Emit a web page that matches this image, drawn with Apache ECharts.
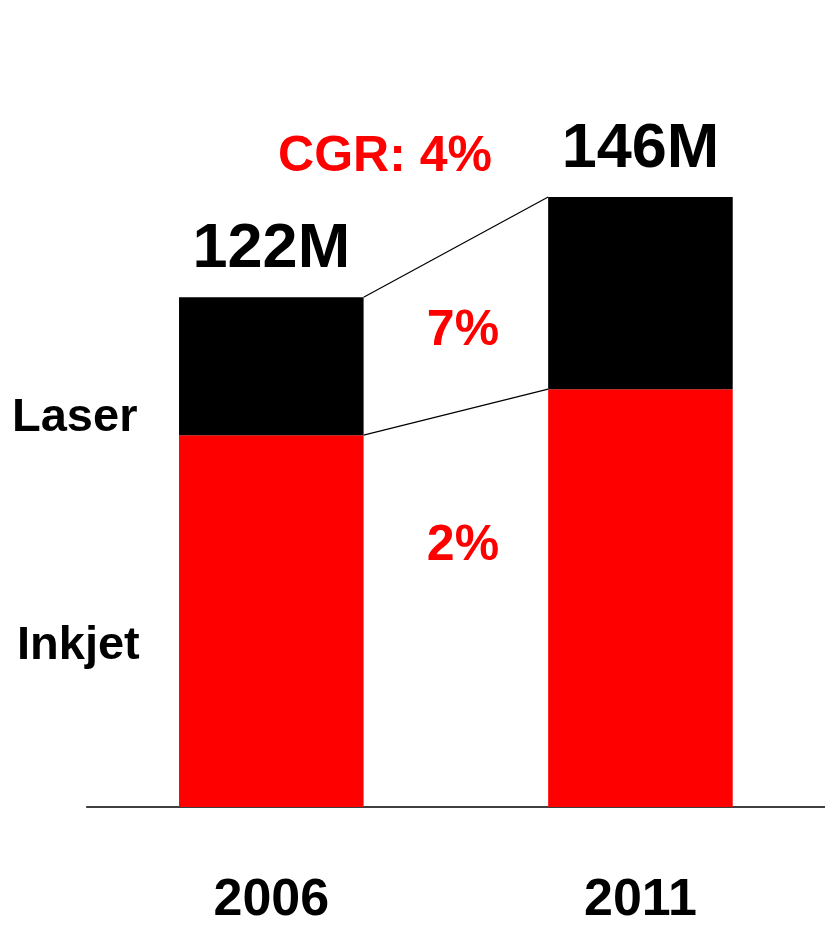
<!DOCTYPE html>
<html>
<head>
<meta charset="utf-8">
<script src="https://cdn.jsdelivr.net/npm/echarts@6/dist/echarts.min.js"></script>
<style>
  html, body { margin: 0; padding: 0; background: #fff; overflow: hidden; }
  #chart { width: 100vw; height: 100vh; }
</style>
</head>
<body>
<div id="chart"></div>
<script>
// Printer shipments, millions of units
const years = ['2006', '2011'];
const inkjet = [89, 100];
const laser = [33, 46];
const totals = inkjet.map((v, i) => v + laser[i]);
const spanYears = 5;

// compound growth rate between the two years, as a rounded percent
function cgr(series) {
  return Math.round((Math.pow(series[1] / series[0], 1 / spanYears) - 1) * 100) + '%';
}

const FONT = "'Liberation Sans', Arial, Helvetica, sans-serif";
const RED = '#ff0000';

const chart = echarts.init(document.getElementById('chart'), null, { renderer: 'canvas' });

// layout is designed on an 825 x 927 page and scaled to the actual size
const sx = chart.getWidth() / 825;
const sy = chart.getHeight() / 927;
const fs = v => Math.round(v * sy * 10) / 10;

function note(text, x, y, size, color, align) {
  return {
    type: 'text',
    position: [x * sx, y * sy],
    style: {
      text: text, fontFamily: FONT, fontWeight: 'bold', fontSize: fs(size),
      fill: color, align: align || 'left', verticalAlign: 'middle'
    }
  };
}

const option = {
  backgroundColor: '#ffffff',
  animation: false,
  grid: { left: 86.75 * sx, right: -5.25 * sx, top: 138.5 * sy, bottom: 113 * sy },
  xAxis: {
    type: 'category',
    data: years,
    axisLine: { lineStyle: { color: '#000', width: 1.6 } },
    axisTick: { show: false },
    axisLabel: {
      margin: 68 * sy,
      fontFamily: FONT,
      fontWeight: 'bold',
      fontSize: fs(52),
      color: '#000'
    }
  },
  yAxis: { type: 'value', min: 0, max: 160, show: false },
  series: [
    {
      name: 'Inkjet',
      type: 'bar',
      stack: 'units',
      barWidth: '50%',
      itemStyle: { color: RED },
      data: inkjet
    },
    {
      name: 'Laser',
      type: 'bar',
      stack: 'units',
      barWidth: '50%',
      itemStyle: { color: '#000' },
      label: {
        show: true,
        position: 'top',
        distance: 16 * sy,
        formatter: p => totals[p.dataIndex] + 'M',
        fontFamily: FONT,
        fontWeight: 'bold',
        fontSize: fs(63),
        color: '#000'
      },
      data: laser
    },
    {
      // thin connectors from the 2006 bar to the 2011 bar
      type: 'custom',
      silent: true,
      z: 5,
      data: [[0, 0]],
      renderItem: function (params, api) {
        const half = api.size([1, 0])[0] * 0.25;
        const children = [totals, inkjet].map(arr => {
          const a = api.coord([0, arr[0]]);
          const b = api.coord([1, arr[1]]);
          return {
            type: 'line',
            shape: { x1: a[0] + half, y1: a[1], x2: b[0] - half, y2: b[1] },
            style: { stroke: '#000', lineWidth: 1.2 }
          };
        });
        return { type: 'group', children: children };
      }
    }
  ],
  graphic: [
    note('Laser', 12, 418, 47, '#000'),
    note('Inkjet', 17, 646, 47, '#000'),
    note('CGR: ' + cgr(totals), 385, 157, 50, RED, 'center'),
    note(cgr(laser), 463, 331, 50, RED, 'center'),
    note(cgr(inkjet), 463, 546, 50, RED, 'center')
  ]
};

chart.setOption(option);
</script>
</body>
</html>
